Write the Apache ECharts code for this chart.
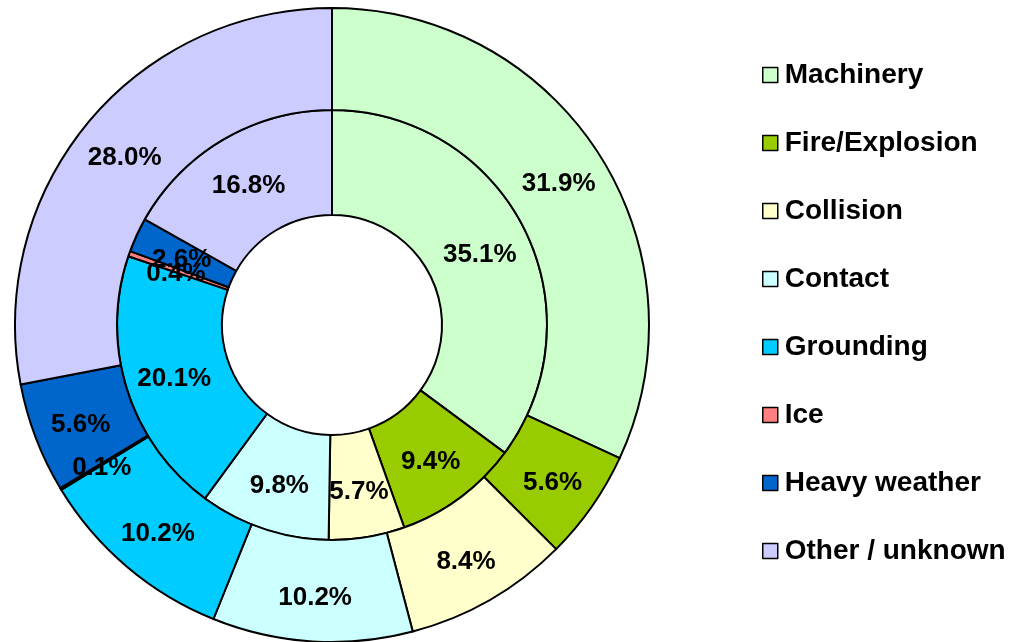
<!DOCTYPE html>
<html>
<head>
<meta charset="utf-8">
<script src="https://cdn.jsdelivr.net/npm/echarts@6/dist/echarts.min.js"></script>
<style>
  html, body { margin: 0; padding: 0; background: #fff; }
  #chart { width: 1018px; height: 642px; }
</style>
</head>
<body>
<div id="chart"></div>
<script>
// categories, same order for both rings (clockwise from 12 o'clock)
var categories = ["Machinery", "Fire/Explosion", "Collision", "Contact", "Grounding", "Ice", "Heavy weather", "Other / unknown"];
var colors = ["#CCFFCC", "#99CC00", "#FFFFCC", "#CCFFFF", "#00CCFF", "#FF8080", "#0066CC", "#CCCCFF"];
// percentages
var innerValues = [35.1, 9.4, 5.7, 9.8, 20.1, 0.4, 2.6, 16.8];
var outerValues = [31.9, 5.6, 8.4, 10.2, 10.2, 0.1, 5.6, 28.0];

var myChart = echarts.init(document.getElementById("chart"));

function toData(values) {
  return categories.map(function (name, i) {
    return { name: name, value: values[i], itemStyle: { color: colors[i] } };
  });
}

var labelStyle = {
  show: true,
  position: "inside",
  offset: [0, 4],
  formatter: function (p) { return p.value.toFixed(1) + "%"; },
  color: "#000",
  fontFamily: "Liberation Sans, Arial, sans-serif",
  fontWeight: "bold",
  fontSize: 26
};

var option = {
  animation: false,
  legend: {
    orient: "vertical",
    left: 757,
    top: 56,
    itemGap: 40,
    itemWidth: 15,
    itemHeight: 15,
    icon: "rect",
    itemStyle: { borderColor: "#000", borderWidth: 1.5 },
    textStyle: {
      fontFamily: "Liberation Sans, Arial, sans-serif",
      fontWeight: "bold",
      fontSize: 28,
      color: "#000",
      padding: [0, 0, 0, 2]
    },
    data: categories
  },
  series: [
    {
      name: "inner",
      type: "pie",
      center: [332, 325],
      radius: [110, 215],
      startAngle: 90,
      clockwise: true,
      avoidLabelOverlap: false,
      minShowLabelAngle: 0,
      label: labelStyle,
      labelLine: { show: false },
      labelLayout: { hideOverlap: false },
      itemStyle: { borderColor: "#000", borderWidth: 2 },
      emphasis: { disabled: true },
      data: toData(innerValues)
    },
    {
      name: "outer",
      type: "pie",
      center: [332, 325],
      radius: [215, 317],
      startAngle: 90,
      clockwise: true,
      avoidLabelOverlap: false,
      minShowLabelAngle: 0,
      label: labelStyle,
      labelLine: { show: false },
      labelLayout: { hideOverlap: false },
      itemStyle: { borderColor: "#000", borderWidth: 2 },
      emphasis: { disabled: true },
      data: toData(outerValues)
    }
  ]
};
myChart.setOption(option);
</script>
</body>
</html>
